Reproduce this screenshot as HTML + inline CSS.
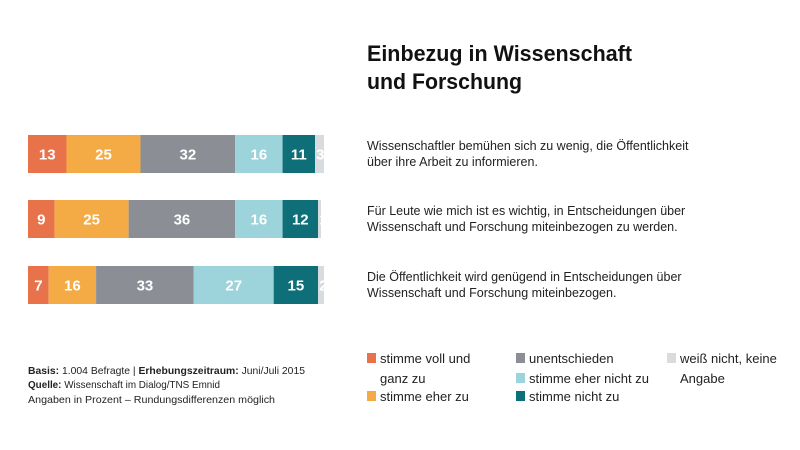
<!DOCTYPE html>
<html><head><meta charset="utf-8"><style>
html,body{margin:0;padding:0;background:#fff;}
svg{display:block;font-family:"Liberation Sans",sans-serif;}
</style></head><body>
<svg id="chart" width="800" height="450" viewBox="0 0 800 450">
<rect width="800" height="450" fill="#fff"/>
<g font-weight="bold" font-size="22" fill="#111">
<text x="367" y="61" textLength="265" lengthAdjust="spacingAndGlyphs">Einbezug in Wissenschaft</text>
<text x="367" y="89" textLength="155" lengthAdjust="spacingAndGlyphs">und Forschung</text>
</g>
<g id="bars"></g>
<g id="stmts" font-size="12.5" fill="#222"></g>
<g font-size="10.5" fill="#222">
<text x="28" y="374" textLength="277" lengthAdjust="spacingAndGlyphs"><tspan font-weight="bold">Basis:</tspan> 1.004 Befragte | <tspan font-weight="bold">Erhebungszeitraum:</tspan> Juni/Juli 2015</text>
<text x="28" y="388" textLength="192" lengthAdjust="spacingAndGlyphs"><tspan font-weight="bold">Quelle:</tspan> Wissenschaft im Dialog/TNS Emnid</text>
<text x="28" y="403" textLength="247" lengthAdjust="spacingAndGlyphs">Angaben in Prozent – Rundungsdifferenzen möglich</text>
</g>
<g id="legend" font-size="13" fill="#222"></g>
</svg>
<script>
const categories=["Wissenschaftler bemühen sich zu wenig, die Öffentlichkeit|über ihre Arbeit zu informieren.","Für Leute wie mich ist es wichtig, in Entscheidungen über|Wissenschaft und Forschung miteinbezogen zu werden.","Die Öffentlichkeit wird genügend in Entscheidungen über|Wissenschaft und Forschung miteinbezogen."];
const seriesNames=["stimme voll und ganz zu","stimme eher zu","unentschieden","stimme eher nicht zu","stimme nicht zu","weiß nicht, keine Angabe"];
const vollZu=[13,9,7];
const eherZu=[25,25,16];
const unentschieden=[32,36,33];
const eherNicht=[16,16,27];
const nichtZu=[11,12,15];
const weissNicht=[3,1,2];
const series=[vollZu,eherZu,unentschieden,eherNicht,nichtZu,weissNicht];
const colors=["#e8734a","#f4ab45","#8b8f95","#9dd3da","#0f6f78","#d9dcdf"];
const NS="http://www.w3.org/2000/svg";
const x0=28, pxPer=2.96, rowY=[135,200,266], barH=38;
const xScale=v=>v*pxPer;
const bars=document.getElementById('bars');
categories.forEach((c,i)=>{
  let acc=0;
  series.forEach((s,j)=>{
    const v=s[i];
    const r=document.createElementNS(NS,'rect');
    r.setAttribute('x',x0+xScale(acc));r.setAttribute('y',rowY[i]);
    r.setAttribute('width',xScale(v));r.setAttribute('height',barH);
    r.setAttribute('fill',colors[j]);
    
    
    bars.appendChild(r);
    const t=document.createElementNS(NS,'text');
    const cx=x0+xScale(acc+v/2);
    t.setAttribute('x',j===5?x0+xScale(acc)+1:cx);
    t.setAttribute('y',rowY[i]+barH/2+5.5);
    t.setAttribute('text-anchor',j===5?'start':'middle');
    t.setAttribute('font-size','15');t.setAttribute('font-weight','bold');
    t.setAttribute('fill','#fff');
    t.textContent=v;
    
    
    bars.appendChild(t);
    acc+=v;
  });
  const lines=c.split('|');
  lines.forEach((ln,k)=>{
    const t=document.createElementNS(NS,'text');
    t.setAttribute('x',367);t.setAttribute('y',rowY[i]+15+k*16);
    t.textContent=ln;
    
    
    document.getElementById('stmts').appendChild(t);
  });
});
const legPos=[[367,358,["stimme voll und","ganz zu"]],[367,396,["stimme eher zu"]],[516,358,["unentschieden"]],[516,378,["stimme eher nicht zu"]],[516,396,["stimme nicht zu"]],[667,358,["weiß nicht, keine","Angabe"]]];
const leg=document.getElementById('legend');
seriesNames.forEach((n,j)=>{
  const [lx,ly,ls]=legPos[j];
  const g=document.createElementNS(NS,'g');
  
  
  const r=document.createElementNS(NS,'rect');
  r.setAttribute('x',lx);r.setAttribute('y',ly-5);r.setAttribute('width',9);r.setAttribute('height',10);
  r.setAttribute('fill',colors[j]);
  g.appendChild(r);
  ls.forEach((s,k)=>{
    const t=document.createElementNS(NS,'text');
    t.setAttribute('x',lx+13);t.setAttribute('y',ly+5+k*20);
    t.textContent=s;
    g.appendChild(t);
  });
  leg.appendChild(g);
});
</script>
</body></html>
